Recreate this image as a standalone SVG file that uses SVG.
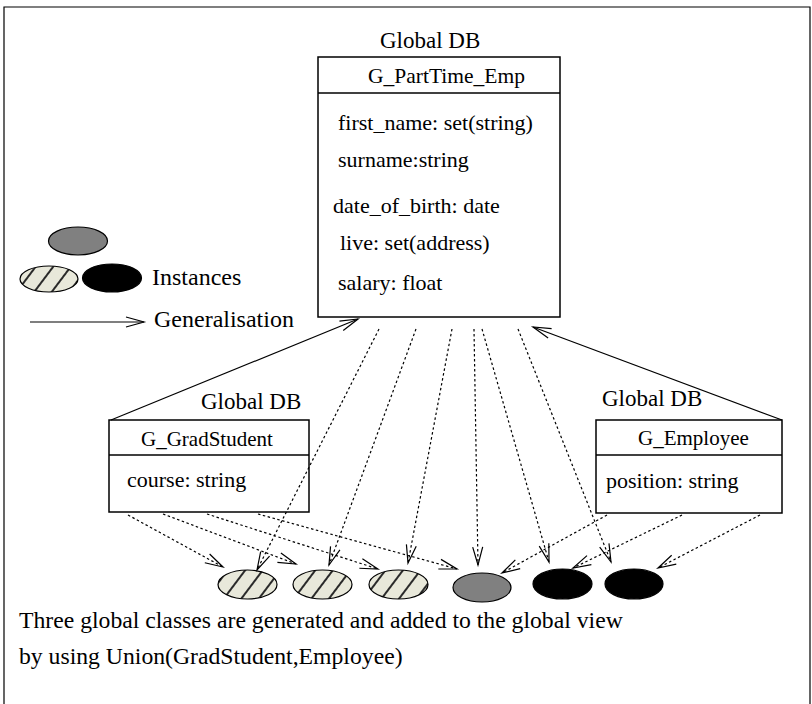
<svg xmlns="http://www.w3.org/2000/svg" width="812" height="704" viewBox="0 0 812 704">
  <style>
    .box { fill: #fff; stroke: #000; stroke-width: 1.5; }
    .div { stroke: #000; stroke-width: 1.5; }
    .gen { fill: none; stroke: #000; stroke-width: 1.2; marker-end: url(#open); }
    .inst { fill: none; stroke: #000; stroke-width: 1.2; stroke-dasharray: 2.5 2.5; marker-end: url(#open); }
    .hatched { fill: url(#hatch); stroke: #000; stroke-width: 1.2; }
    .grey { fill: #808080; stroke: #000; stroke-width: 1.2; }
    .black { fill: #000; stroke: #000; stroke-width: 1.2; }
  </style>
  <defs>
    <marker id="open" markerUnits="userSpaceOnUse" markerWidth="22" markerHeight="14" refX="18" refY="5.5" orient="auto" overflow="visible">
      <path d="M0,0.5 L18,5.5 L0,10.5" fill="none" stroke="#000" stroke-width="1.2" stroke-dasharray="none"/>
    </marker>
    <pattern id="hatch" patternUnits="userSpaceOnUse" width="14" height="14" patternTransform="rotate(37)">
      <rect width="14" height="14" fill="#e8e8da"/>
      <line x1="7" y1="0" x2="7" y2="14" stroke="#2a2a2a" stroke-width="2"/>
    </pattern>
  </defs>

  <!-- frame -->
  <path d="M4,710 L4,7 L810,7 L810,710" fill="none" stroke="#000" stroke-width="1.2"/>

  <!-- legend -->
  <g id="legend">
    <ellipse class="grey" cx="78" cy="241" rx="29.5" ry="14"/>
    <ellipse class="hatched" cx="49" cy="279" rx="29" ry="13"/>
    <ellipse class="black" cx="112" cy="278" rx="29.5" ry="14"/>
    <text x="152" y="285" font-size="24" font-family="'Liberation Serif'">Instances</text>
    <line class="gen" x1="30" y1="322" x2="144" y2="322"/>
    <text x="154" y="327" font-size="24" font-family="'Liberation Serif'">Generalisation</text>
  </g>

  <!-- global class G_PartTime_Emp -->
  <g id="g-parttime-emp">
    <text x="380" y="48" font-size="23" font-family="'Liberation Serif'">Global DB</text>
    <rect class="box" x="318" y="57" width="242" height="260"/>
    <line class="div" x1="318" y1="93" x2="560" y2="93"/>
    <text x="368" y="83" font-size="21.5" font-family="'Liberation Serif'">G_PartTime_Emp</text>
    <text x="338" y="130" font-size="22" font-family="'Liberation Serif'">first_name: set(string)</text>
    <text x="338" y="167" font-size="22" font-family="'Liberation Serif'">surname:string</text>
    <text x="333" y="213" font-size="22" font-family="'Liberation Serif'">date_of_birth: date</text>
    <text x="340" y="250" font-size="22" font-family="'Liberation Serif'">live: set(address)</text>
    <text x="338" y="290" font-size="22" font-family="'Liberation Serif'">salary: float</text>
  </g>

  <!-- global class G_GradStudent -->
  <g id="g-gradstudent">
    <text x="201" y="409" font-size="23" font-family="'Liberation Serif'">Global DB</text>
    <rect class="box" x="109" y="420" width="200" height="92"/>
    <line class="div" x1="109" y1="455" x2="309" y2="455"/>
    <text x="141" y="446" font-size="21" font-family="'Liberation Serif'">G_GradStudent</text>
    <text x="127" y="487" font-size="22" font-family="'Liberation Serif'">course: string</text>
  </g>

  <!-- global class G_Employee -->
  <g id="g-employee">
    <text x="602" y="406" font-size="23" font-family="'Liberation Serif'">Global DB</text>
    <rect class="box" x="596" y="420" width="186" height="93"/>
    <line class="div" x1="596" y1="455" x2="782" y2="455"/>
    <text x="638" y="445" font-size="21" font-family="'Liberation Serif'">G_Employee</text>
    <text x="606" y="488" font-size="22" font-family="'Liberation Serif'">position: string</text>
  </g>

  <!-- instances -->
  <g id="instances">
    <ellipse class="hatched" cx="247.5" cy="584.5" rx="29.5" ry="14.5"/>
    <ellipse class="hatched" cx="322.5" cy="584.5" rx="29.5" ry="14.5"/>
    <ellipse class="hatched" cx="398.5" cy="584.5" rx="29.5" ry="14.5"/>
    <ellipse class="grey" cx="482" cy="587.5" rx="29" ry="14.5"/>
    <ellipse class="black" cx="562.5" cy="584" rx="29.5" ry="15"/>
    <ellipse class="black" cx="634" cy="584" rx="29" ry="15"/>
  </g>

  <!-- connectors -->
  <g id="connectors">
    <!-- generalisation -->
    <line class="gen" x1="111" y1="420" x2="358" y2="319"/>
    <line class="gen" x1="782" y1="420" x2="533" y2="327"/>
    <!-- instance-of from G_PartTime_Emp -->
    <line class="inst" x1="379" y1="329" x2="257" y2="570"/>
    <line class="inst" x1="416" y1="329" x2="329" y2="565"/>
    <line class="inst" x1="452" y1="329" x2="408" y2="563"/>
    <line class="inst" x1="474" y1="329" x2="478" y2="565"/>
    <line class="inst" x1="482" y1="329" x2="549" y2="562"/>
    <line class="inst" x1="518" y1="329" x2="611" y2="562"/>
    <!-- instance-of from G_GradStudent -->
    <line class="inst" x1="128" y1="515" x2="223" y2="567"/>
    <line class="inst" x1="163" y1="514" x2="296" y2="564"/>
    <line class="inst" x1="207" y1="514" x2="378" y2="569"/>
    <line class="inst" x1="258" y1="514" x2="457" y2="569"/>
    <!-- instance-of from G_Employee -->
    <line class="inst" x1="607" y1="515" x2="502" y2="573"/>
    <line class="inst" x1="682" y1="515" x2="573" y2="568"/>
    <line class="inst" x1="760" y1="515" x2="658" y2="568"/>
  </g>

  <!-- caption -->
  <g id="caption">
    <text x="19" y="628" font-size="23.7" font-family="'Liberation Serif'">Three global classes are generated and added to the global view</text>
    <text x="19" y="664" font-size="23.7" font-family="'Liberation Serif'">by using Union(GradStudent,Employee)</text>
  </g>
</svg>
